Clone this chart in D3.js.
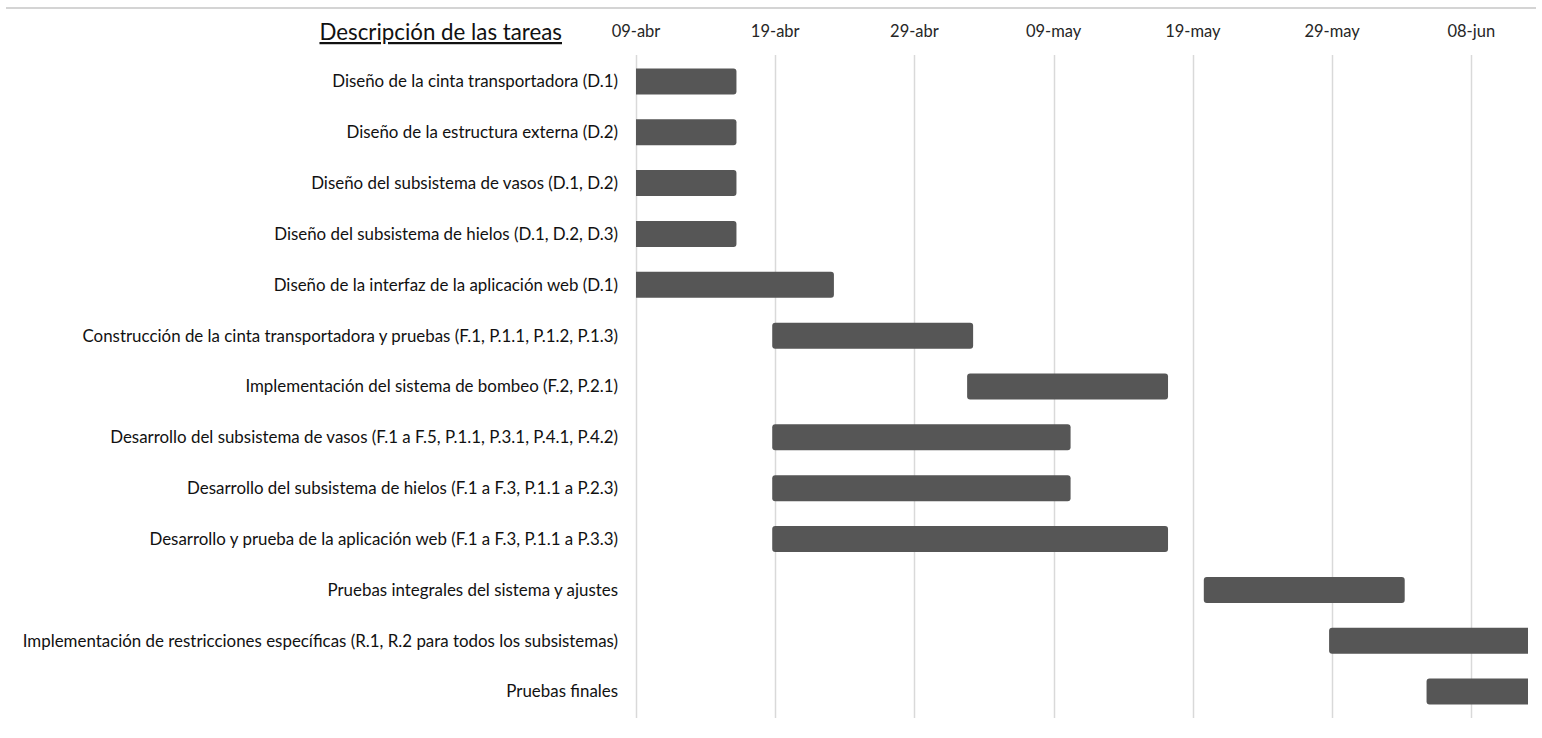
<!DOCTYPE html>
<html>
<head>
<meta charset="utf-8">
<script src="https://cdn.jsdelivr.net/npm/d3@7"></script>
<style>
  body { margin: 0; background: #fff; }
  svg { display: block; }
</style>
</head>
<body>
<div id="chart"></div>
<script>
const tasks = [
  'Diseño de la cinta transportadora (D.1)',
  'Diseño de la estructura externa (D.2)',
  'Diseño del subsistema de vasos (D.1, D.2)',
  'Diseño del subsistema de hielos (D.1, D.2, D.3)',
  'Diseño de la interfaz de la aplicación web (D.1)',
  'Construcción de la cinta transportadora y pruebas (F.1, P.1.1, P.1.2, P.1.3)',
  'Implementación del sistema de bombeo (F.2, P.2.1)',
  'Desarrollo del subsistema de vasos (F.1 a F.5, P.1.1, P.3.1, P.4.1, P.4.2)',
  'Desarrollo del subsistema de hielos (F.1 a F.3, P.1.1 a P.2.3)',
  'Desarrollo y prueba de la aplicación web (F.1 a F.3, P.1.1 a P.3.3)',
  'Pruebas integrales del sistema y ajustes',
  'Implementación de restricciones específicas (R.1, R.2 para todos los subsistemas)',
  'Pruebas finales'
];
const startDates = [
  '2024-04-09', '2024-04-09', '2024-04-09', '2024-04-09', '2024-04-09',
  '2024-04-19', '2024-05-03', '2024-04-19', '2024-04-19', '2024-04-19',
  '2024-05-20', '2024-05-29', '2024-06-05'
];
const endDates = [
  '2024-04-16', '2024-04-16', '2024-04-16', '2024-04-16', '2024-04-23',
  '2024-05-03', '2024-05-17', '2024-05-10', '2024-05-10', '2024-05-17',
  '2024-06-03', '2024-06-15', '2024-06-15'
];
const tickDates = ['2024-04-09', '2024-04-19', '2024-04-29', '2024-05-09', '2024-05-19', '2024-05-29', '2024-06-08'];
const axisStart = '2024-04-09';
const axisEnd = '2024-06-12';
const monthNames = ['ene', 'feb', 'mar', 'abr', 'may', 'jun', 'jul', 'ago', 'sep', 'oct', 'nov', 'dic'];

const parse = d3.utcParse('%Y-%m-%d');
const width = 1542, height = 738;
const plot = { left: 636, right: 1527, top: 56, bottom: 717 };

const svg = d3.select('#chart').append('svg')
  .attr('width', width)
  .attr('height', height);

// frame line at top
svg.append('line')
  .attr('x1', 6).attr('x2', 1536)
  .attr('y1', 8).attr('y2', 8)
  .attr('stroke', '#d4d4d4')
  .attr('stroke-width', 2);

const x = d3.scaleUtc()
  .domain([parse(axisStart), parse(axisEnd)])
  .range([plot.left, plot.right]);

const y = d3.scaleBand()
  .domain(tasks)
  .range([plot.top, plot.bottom]);

const fmt = d => String(d.getUTCDate()).padStart(2, '0') + '-' + monthNames[d.getUTCMonth()];

// gridlines
svg.append('g')
  .selectAll('line')
  .data(tickDates.map(parse))
  .join('line')
  .attr('x1', d => Math.round(x(d)) + 0.5)
  .attr('x2', d => Math.round(x(d)) + 0.5)
  .attr('y1', 55)
  .attr('y2', 718)
  .attr('stroke', '#d9d9d9')
  .attr('stroke-width', 1.5);

// tick labels
svg.append('g')
  .selectAll('text')
  .data(tickDates.map(parse))
  .join('text')
  .attr('x', d => x(d))
  .attr('y', 37)
  .attr('text-anchor', 'middle')
  .attr('font-family', 'Lato, sans-serif')
  .attr('font-size', 16.5)
  .attr('fill', '#262626')
  .text(fmt);

// title
svg.append('text')
  .attr('x', 562)
  .attr('y', 40)
  .attr('text-anchor', 'end')
  .attr('font-family', 'Lato, sans-serif')
  .attr('font-size', 22.3)
  .attr('fill', '#111')
  .attr('text-decoration', 'underline')
  .text('Descripción de las tareas');

// task labels
svg.append('g')
  .selectAll('text')
  .data(tasks)
  .join('text')
  .attr('x', 618)
  .attr('y', d => y(d) + y.bandwidth() / 2)
  .attr('dy', '0.35em')
  .attr('text-anchor', 'end')
  .attr('font-family', 'Lato, sans-serif')
  .attr('font-size', 16.9)
  .attr('fill', '#111')
  .text(d => d);

svg.append('clipPath')
  .attr('id', 'plot-clip')
  .append('rect')
  .attr('x', plot.left)
  .attr('y', 0)
  .attr('width', plot.right - plot.left + 1)
  .attr('height', height);

const barH = 26;
const pad = 3;
svg.append('g')
  .attr('clip-path', 'url(#plot-clip)')
  .selectAll('rect')
  .data(tasks.map((t, i) => ({ task: t, start: parse(startDates[i]), end: parse(endDates[i]) })))
  .join('rect')
  .attr('x', d => x(d.start) - pad)
  .attr('y', d => y(d.task) + y.bandwidth() / 2 - barH / 2)
  .attr('width', d => x(d.end) - x(d.start) + 2 * pad)
  .attr('height', barH)
  .attr('rx', 3)
  .attr('fill', '#565656');
</script>
</body>
</html>
